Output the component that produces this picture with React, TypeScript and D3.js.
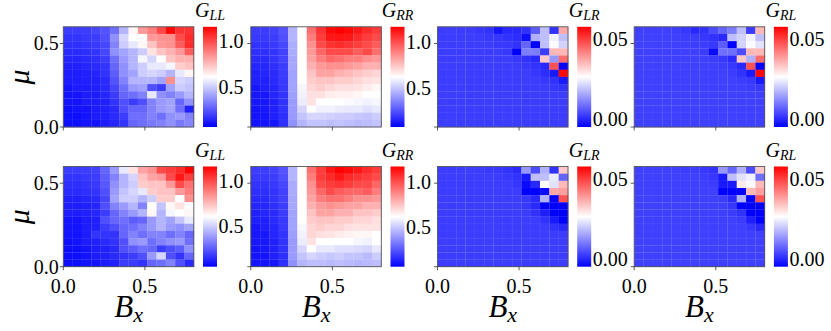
import React from "react";
import * as d3 from "d3";

// 14 x 14 grid, B_x in [0, 0.8], mu in [0, 0.6]; rows listed from top (mu = 0.6) to bottom (mu = 0)
const bxRange = [0, 0.8];
const muRange = [0, 0.6];
const axisTicks = [0.0, 0.5];

const gLLTop = [
  [0.19, 0.19, 0.19, 0.21, 0.24, 0.30, 0.45, 0.63, 0.83, 0.89, 1.00, 1.14, 1.05, 1.05],
  [0.17, 0.17, 0.18, 0.19, 0.23, 0.37, 0.52, 0.61, 0.61, 0.83, 0.85, 0.85, 1.00, 1.07],
  [0.16, 0.16, 0.17, 0.18, 0.21, 0.34, 0.50, 0.56, 0.63, 0.74, 0.83, 0.85, 0.96, 1.07],
  [0.15, 0.15, 0.16, 0.17, 0.21, 0.37, 0.41, 0.45, 0.50, 0.67, 0.74, 0.78, 0.83, 0.96],
  [0.14, 0.14, 0.15, 0.16, 0.19, 0.30, 0.39, 0.45, 0.59, 0.52, 0.61, 0.74, 0.78, 0.78],
  [0.13, 0.13, 0.14, 0.15, 0.17, 0.28, 0.37, 0.45, 0.50, 0.56, 0.56, 0.59, 0.72, 0.74],
  [0.12, 0.12, 0.13, 0.14, 0.17, 0.26, 0.37, 0.41, 0.50, 0.52, 0.50, 0.45, 0.56, 0.63],
  [0.12, 0.12, 0.13, 0.13, 0.15, 0.24, 0.34, 0.45, 0.45, 0.45, 0.41, 0.85, 0.52, 0.50],
  [0.10, 0.12, 0.12, 0.13, 0.15, 0.21, 0.30, 0.39, 0.41, 0.23, 0.19, 0.41, 0.50, 0.48],
  [0.10, 0.10, 0.12, 0.12, 0.14, 0.19, 0.28, 0.30, 0.34, 0.56, 0.37, 0.34, 0.39, 0.45],
  [0.10, 0.10, 0.12, 0.12, 0.13, 0.17, 0.23, 0.19, 0.23, 0.34, 0.39, 0.41, 0.28, 0.37],
  [0.09, 0.10, 0.10, 0.12, 0.13, 0.15, 0.23, 0.28, 0.28, 0.34, 0.39, 0.41, 0.30, 0.13],
  [0.09, 0.09, 0.10, 0.12, 0.13, 0.15, 0.19, 0.30, 0.30, 0.34, 0.30, 0.37, 0.39, 0.34],
  [0.09, 0.09, 0.10, 0.10, 0.12, 0.14, 0.17, 0.28, 0.30, 0.32, 0.34, 0.37, 0.32, 0.35],
];

const gRRTop = [
  [0.20, 0.20, 0.21, 0.25, 0.46, 0.62, 0.93, 1.06, 1.15, 1.17, 1.15, 1.12, 1.08, 1.04],
  [0.19, 0.19, 0.20, 0.24, 0.46, 0.62, 0.90, 1.04, 1.12, 1.13, 1.12, 1.08, 1.04, 1.01],
  [0.18, 0.18, 0.19, 0.22, 0.44, 0.62, 0.86, 1.01, 1.06, 1.08, 1.06, 1.04, 1.01, 0.97],
  [0.17, 0.17, 0.18, 0.21, 0.44, 0.62, 0.84, 0.95, 1.01, 1.01, 1.01, 0.97, 1.01, 0.93],
  [0.16, 0.16, 0.18, 0.21, 0.43, 0.62, 0.82, 0.90, 0.95, 0.93, 0.90, 0.90, 0.86, 0.84],
  [0.15, 0.15, 0.17, 0.20, 0.43, 0.62, 0.79, 0.84, 0.86, 0.86, 0.84, 0.82, 0.79, 0.79],
  [0.14, 0.15, 0.16, 0.20, 0.42, 0.62, 0.75, 0.82, 0.82, 0.79, 0.77, 0.75, 0.73, 0.71],
  [0.14, 0.14, 0.16, 0.19, 0.42, 0.62, 0.73, 0.75, 0.75, 0.73, 0.73, 0.71, 0.69, 0.68],
  [0.12, 0.14, 0.15, 0.19, 0.42, 0.60, 0.71, 0.73, 0.71, 0.69, 0.69, 0.68, 0.66, 0.64],
  [0.12, 0.12, 0.15, 0.18, 0.41, 0.59, 0.69, 0.69, 0.66, 0.65, 0.65, 0.64, 0.62, 0.62],
  [0.12, 0.12, 0.14, 0.18, 0.40, 0.58, 0.68, 0.62, 0.62, 0.62, 0.61, 0.60, 0.59, 0.60],
  [0.11, 0.12, 0.14, 0.18, 0.40, 0.53, 0.62, 0.59, 0.59, 0.58, 0.57, 0.57, 0.55, 0.57],
  [0.11, 0.11, 0.14, 0.17, 0.40, 0.49, 0.53, 0.53, 0.52, 0.51, 0.51, 0.50, 0.49, 0.51],
  [0.11, 0.11, 0.12, 0.17, 0.38, 0.46, 0.49, 0.49, 0.48, 0.49, 0.48, 0.47, 0.48, 0.49],
];

// off-diagonal conductances, in units of 1e-3
const gLRTop = [
  [2.4, 2.4, 2.4, 2.4, 1.8, 1.2, -2.5, 0.0, 0.0, 1.2, 6.2, 18.6, 1.2, 37.2],
  [2.4, 2.4, 2.4, 2.4, 2.4, 1.8, 1.8, 1.2, 0.6, -3.1, 16.7, 18.6, 24.8, 18.6],
  [2.4, 2.4, 2.4, 2.4, 2.4, 2.4, 1.8, 1.8, 1.2, 7.4, -5.0, 18.6, 26.0, 21.0],
  [2.4, 2.4, 2.4, 2.4, 2.4, 2.4, 2.4, 1.8, -5.0, 10.5, 10.5, 2.4, 35.3, 35.3],
  [2.4, 2.4, 2.4, 2.4, 2.4, 2.4, 2.4, 2.4, 1.8, 1.2, 0.0, 33.4, 13.6, 44.6],
  [2.4, 2.4, 2.4, 2.4, 2.4, 2.4, 2.4, 2.4, 2.4, 1.8, 1.2, 0.0, 47.7, -5.0],
  [2.4, 2.4, 2.4, 2.4, 2.4, 2.4, 2.4, 2.4, 2.4, 2.4, 1.8, 0.6, -1.9, 57.0],
  [2.4, 2.4, 2.4, 2.4, 2.4, 2.4, 2.4, 2.4, 2.4, 2.4, 2.4, 1.8, 1.2, -1.9],
  [2.4, 2.4, 2.4, 2.4, 2.4, 2.4, 2.4, 2.4, 2.4, 2.4, 2.4, 2.4, 1.8, 1.2],
  [2.4, 2.4, 2.4, 2.4, 2.4, 2.4, 2.4, 2.4, 2.4, 2.4, 2.4, 2.4, 2.4, 2.4],
  [2.4, 2.4, 2.4, 2.4, 2.4, 2.4, 2.4, 2.4, 2.4, 2.4, 2.4, 2.4, 2.4, 2.4],
  [2.4, 2.4, 2.4, 2.4, 2.4, 2.4, 2.4, 2.4, 2.4, 2.4, 2.4, 2.4, 2.4, 2.4],
  [2.4, 2.4, 2.4, 2.4, 2.4, 2.4, 2.4, 2.4, 2.4, 2.4, 2.4, 2.4, 2.4, 2.4],
  [2.4, 2.4, 2.4, 2.4, 2.4, 2.4, 2.4, 2.4, 2.4, 2.4, 2.4, 2.4, 2.4, 2.4],
];

const gRLTop = [
  [2.8, 2.8, 2.8, 2.8, 2.4, 1.8, 0.0, 1.2, 4.3, 7.4, 10.5, 18.6, 2.4, 35.3],
  [2.8, 2.8, 2.8, 2.8, 2.8, 2.4, 2.4, 1.8, 1.2, 0.0, 18.6, 21.0, 24.8, 18.6],
  [2.8, 2.8, 2.8, 2.8, 2.8, 2.8, 2.4, 2.4, 1.8, 6.2, -5.0, 21.0, 26.0, 22.9],
  [2.8, 2.8, 2.8, 2.8, 2.8, 2.8, 2.8, 2.4, -3.8, 8.6, 8.6, 4.3, 35.3, 35.3],
  [2.8, 2.8, 2.8, 2.8, 2.8, 2.8, 2.8, 2.8, 2.4, 1.8, 0.0, 33.4, 16.7, 44.6],
  [2.8, 2.8, 2.8, 2.8, 2.8, 2.8, 2.8, 2.8, 2.8, 2.4, 1.8, 0.0, 47.7, -5.0],
  [2.8, 2.8, 2.8, 2.8, 2.8, 2.8, 2.8, 2.8, 2.8, 2.8, 2.4, 1.2, -1.9, 57.0],
  [2.8, 2.8, 2.8, 2.8, 2.8, 2.8, 2.8, 2.8, 2.8, 2.8, 2.8, 2.4, 1.8, -1.9],
  [2.8, 2.8, 2.8, 2.8, 2.8, 2.8, 2.8, 2.8, 2.8, 2.8, 2.8, 2.8, 2.4, 1.8],
  [2.8, 2.8, 2.8, 2.8, 2.8, 2.8, 2.8, 2.8, 2.8, 2.8, 2.8, 2.8, 2.8, 2.8],
  [2.8, 2.8, 2.8, 2.8, 2.8, 2.8, 2.8, 2.8, 2.8, 2.8, 2.8, 2.8, 2.8, 2.8],
  [2.8, 2.8, 2.8, 2.8, 2.8, 2.8, 2.8, 2.8, 2.8, 2.8, 2.8, 2.8, 2.8, 2.8],
  [2.8, 2.8, 2.8, 2.8, 2.8, 2.8, 2.8, 2.8, 2.8, 2.8, 2.8, 2.8, 2.8, 2.8],
  [2.8, 2.8, 2.8, 2.8, 2.8, 2.8, 2.8, 2.8, 2.8, 2.8, 2.8, 2.8, 2.8, 2.8],
];

const gLLBot = [
  [0.19, 0.19, 0.19, 0.20, 0.28, 0.39, 0.56, 0.67, 0.81, 0.85, 1.00, 1.03, 1.07, 1.16],
  [0.17, 0.17, 0.18, 0.19, 0.26, 0.34, 0.45, 0.52, 0.74, 0.81, 0.83, 1.00, 1.11, 1.03],
  [0.16, 0.16, 0.17, 0.18, 0.25, 0.37, 0.45, 0.50, 0.72, 0.74, 0.74, 0.83, 1.00, 0.92],
  [0.15, 0.15, 0.16, 0.17, 0.23, 0.39, 0.48, 0.52, 0.56, 0.72, 0.74, 0.74, 0.83, 0.89],
  [0.13, 0.13, 0.14, 0.15, 0.21, 0.41, 0.50, 0.50, 0.45, 0.50, 0.72, 0.72, 0.61, 0.85],
  [0.12, 0.12, 0.13, 0.14, 0.23, 0.34, 0.39, 0.45, 0.34, 0.61, 0.48, 0.63, 0.67, 0.61],
  [0.12, 0.12, 0.13, 0.14, 0.19, 0.28, 0.34, 0.39, 0.45, 0.63, 0.45, 0.59, 0.61, 0.63],
  [0.10, 0.10, 0.12, 0.13, 0.23, 0.28, 0.30, 0.26, 0.28, 0.39, 0.45, 0.41, 0.48, 0.56],
  [0.10, 0.10, 0.12, 0.13, 0.19, 0.23, 0.28, 0.30, 0.34, 0.39, 0.45, 0.39, 0.37, 0.41],
  [0.10, 0.10, 0.12, 0.17, 0.17, 0.17, 0.28, 0.34, 0.30, 0.34, 0.34, 0.30, 0.34, 0.28],
  [0.09, 0.10, 0.12, 0.13, 0.15, 0.17, 0.23, 0.37, 0.39, 0.30, 0.34, 0.37, 0.39, 0.30],
  [0.09, 0.09, 0.10, 0.12, 0.13, 0.15, 0.23, 0.26, 0.30, 0.28, 0.19, 0.23, 0.26, 0.37],
  [0.09, 0.09, 0.10, 0.12, 0.13, 0.15, 0.17, 0.19, 0.23, 0.39, 0.52, 0.23, 0.17, 0.28],
  [0.09, 0.09, 0.10, 0.10, 0.12, 0.13, 0.19, 0.19, 0.17, 0.28, 0.30, 0.34, 0.23, 0.15],
];

const gRRBot = [
  [0.20, 0.20, 0.21, 0.25, 0.46, 0.62, 0.93, 1.04, 1.12, 1.17, 1.15, 1.12, 1.08, 1.04],
  [0.19, 0.19, 0.20, 0.24, 0.46, 0.62, 0.90, 1.04, 1.08, 1.12, 1.08, 1.06, 1.04, 1.01],
  [0.18, 0.18, 0.19, 0.22, 0.44, 0.62, 0.86, 1.01, 1.04, 1.06, 1.04, 1.01, 1.01, 0.95],
  [0.17, 0.17, 0.18, 0.21, 0.44, 0.62, 0.84, 0.95, 1.01, 0.97, 0.95, 0.95, 0.97, 0.90],
  [0.16, 0.16, 0.18, 0.21, 0.43, 0.62, 0.82, 0.90, 0.93, 0.93, 0.90, 0.86, 0.86, 0.84],
  [0.15, 0.15, 0.17, 0.20, 0.43, 0.62, 0.79, 0.84, 0.86, 0.84, 0.82, 0.82, 0.79, 0.79],
  [0.14, 0.15, 0.16, 0.20, 0.42, 0.62, 0.75, 0.82, 0.82, 0.79, 0.79, 0.75, 0.75, 0.73],
  [0.14, 0.14, 0.16, 0.19, 0.42, 0.62, 0.73, 0.75, 0.75, 0.73, 0.73, 0.71, 0.71, 0.69],
  [0.12, 0.14, 0.15, 0.19, 0.42, 0.60, 0.71, 0.73, 0.71, 0.71, 0.69, 0.68, 0.68, 0.68],
  [0.12, 0.12, 0.15, 0.18, 0.41, 0.59, 0.71, 0.69, 0.68, 0.66, 0.65, 0.64, 0.64, 0.62],
  [0.12, 0.12, 0.14, 0.18, 0.40, 0.58, 0.68, 0.62, 0.62, 0.62, 0.62, 0.60, 0.59, 0.62],
  [0.11, 0.12, 0.14, 0.18, 0.40, 0.53, 0.62, 0.57, 0.57, 0.55, 0.55, 0.54, 0.53, 0.57],
  [0.11, 0.11, 0.14, 0.17, 0.40, 0.49, 0.53, 0.51, 0.50, 0.51, 0.49, 0.49, 0.47, 0.51],
  [0.11, 0.11, 0.12, 0.17, 0.38, 0.46, 0.48, 0.48, 0.47, 0.48, 0.47, 0.46, 0.47, 0.48],
];

const gLRBot = [
  [2.4, 2.4, 2.4, 2.4, 2.4, 1.8, 1.8, 1.2, 0.0, 13.6, 4.3, 16.7, 1.2, 33.4],
  [2.4, 2.4, 2.4, 2.4, 2.4, 2.4, 2.4, 1.8, 1.2, -1.9, 18.6, 18.6, 24.1, 7.4],
  [2.4, 2.4, 2.4, 2.4, 2.4, 2.4, 2.4, 2.4, 1.8, -3.8, 0.0, 27.2, 22.9, 35.3],
  [2.4, 2.4, 2.4, 2.4, 2.4, 2.4, 2.4, 2.4, 2.4, -5.0, -5.0, -3.8, 37.2, 38.4],
  [2.4, 2.4, 2.4, 2.4, 2.4, 2.4, 2.4, 2.4, 2.4, 1.8, 0.0, 16.7, -5.0, 47.7],
  [2.4, 2.4, 2.4, 2.4, 2.4, 2.4, 2.4, 2.4, 2.4, 1.8, 0.0, -5.0, -5.0, -5.0],
  [2.4, 2.4, 2.4, 2.4, 2.4, 2.4, 2.4, 2.4, 2.4, 2.4, 1.2, -1.3, -5.0, -5.0],
  [2.4, 2.4, 2.4, 2.4, 2.4, 2.4, 2.4, 2.4, 2.4, 2.4, 2.4, 1.2, -1.9, -5.0],
  [2.4, 2.4, 2.4, 2.4, 2.4, 2.4, 2.4, 2.4, 2.4, 2.4, 2.4, 2.4, 1.2, 0.0],
  [2.4, 2.4, 2.4, 2.4, 2.4, 2.4, 2.4, 2.4, 2.4, 2.4, 2.4, 2.4, 2.4, 2.4],
  [2.4, 2.4, 2.4, 2.4, 2.4, 2.4, 2.4, 2.4, 2.4, 2.4, 2.4, 2.4, 2.4, 2.4],
  [2.4, 2.4, 2.4, 2.4, 2.4, 2.4, 2.4, 2.4, 2.4, 2.4, 2.4, 2.4, 2.4, 2.4],
  [2.4, 2.4, 2.4, 2.4, 2.4, 2.4, 2.4, 2.4, 2.4, 2.4, 2.4, 2.4, 2.4, 2.4],
  [2.4, 2.4, 2.4, 2.4, 2.4, 2.4, 2.4, 2.4, 2.4, 2.4, 2.4, 2.4, 2.4, 2.4],
];

const gRLBot = [
  [2.8, 2.8, 2.8, 2.8, 2.8, 2.4, 2.4, 1.8, 1.2, 13.6, 7.4, 16.7, 4.3, 33.4],
  [2.8, 2.8, 2.8, 2.8, 2.8, 2.8, 2.8, 2.4, 1.8, -1.9, 18.6, 22.9, 24.8, 8.6],
  [2.8, 2.8, 2.8, 2.8, 2.8, 2.8, 2.8, 2.8, 2.4, -1.9, -1.9, 29.0, 26.0, 35.3],
  [2.8, 2.8, 2.8, 2.8, 2.8, 2.8, 2.8, 2.8, 2.8, -5.0, -5.0, -5.0, 35.3, 38.4],
  [2.8, 2.8, 2.8, 2.8, 2.8, 2.8, 2.8, 2.8, 2.8, 2.4, 0.0, 16.7, -5.0, 47.7],
  [2.8, 2.8, 2.8, 2.8, 2.8, 2.8, 2.8, 2.8, 2.8, 2.8, 1.8, -5.0, -5.0, -5.0],
  [2.8, 2.8, 2.8, 2.8, 2.8, 2.8, 2.8, 2.8, 2.8, 2.8, 2.4, 1.2, -5.0, -5.0],
  [2.8, 2.8, 2.8, 2.8, 2.8, 2.8, 2.8, 2.8, 2.8, 2.8, 2.8, 2.4, -1.3, -5.0],
  [2.8, 2.8, 2.8, 2.8, 2.8, 2.8, 2.8, 2.8, 2.8, 2.8, 2.8, 2.8, 1.8, 0.0],
  [2.8, 2.8, 2.8, 2.8, 2.8, 2.8, 2.8, 2.8, 2.8, 2.8, 2.8, 2.8, 2.8, 2.8],
  [2.8, 2.8, 2.8, 2.8, 2.8, 2.8, 2.8, 2.8, 2.8, 2.8, 2.8, 2.8, 2.8, 2.8],
  [2.8, 2.8, 2.8, 2.8, 2.8, 2.8, 2.8, 2.8, 2.8, 2.8, 2.8, 2.8, 2.8, 2.8],
  [2.8, 2.8, 2.8, 2.8, 2.8, 2.8, 2.8, 2.8, 2.8, 2.8, 2.8, 2.8, 2.8, 2.8],
  [2.8, 2.8, 2.8, 2.8, 2.8, 2.8, 2.8, 2.8, 2.8, 2.8, 2.8, 2.8, 2.8, 2.8],
];

// colour limits and colorbar ticks
const diagLimitsLL = [0.06, 1.16];
const diagLimitsRR = [0.07, 1.17];
const offLimits = [-0.005, 0.058];
const diagTicks = [0.5, 1.0];
const offTicks = [0.0, 0.05];
const titles = ["LL", "RR", "LR", "RL"];

const milli = (m: number[][]) => m.map((r) => r.map((v) => v / 1000));

// layout
const W = 831;
const H = 331;
const heatW = 130.5;
const heatH = 100.2;
const colX = [63.3, 250.8, 437.5, 634.2];
const rowY = [26.8, 166.5];
const cbOffset = 139.7;
const cbW = 14;
const serifStyle = {
  fontFamily:
    "'Liberation Serif', 'Times New Roman', Tinos, 'DejaVu Serif', 'Noto Serif', FreeSerif, Times, serif",
};

function Panel({ x0, y0, data, limits, cbTicks, cbFmt, sub, gradId, showYLabels, showXLabels }: any) {
  const nCols = data[0].length;
  const nRows = data.length;
  const xb = d3.scaleBand<number>().domain(d3.range(nCols)).range([x0, x0 + heatW]);
  const yb = d3.scaleBand<number>().domain(d3.range(nRows)).range([y0, y0 + heatH]);
  const xs = d3.scaleLinear().domain(bxRange).range([x0, x0 + heatW]);
  const ys = d3.scaleLinear().domain(muRange).range([y0 + heatH, y0]);
  const color = d3
    .scaleLinear<string>()
    .domain([limits[0], (limits[0] + limits[1]) / 2, limits[1]])
    .range(["#0000ff", "#ffffff", "#ff0000"])
    .clamp(true);
  const cbX = x0 + cbOffset;
  const cs = d3.scaleLinear().domain(limits).range([y0 + heatH, y0]);

  return (
    <g style={serifStyle}>
      {/* cells */}
      {data.map((row: number[], r: number) =>
        row.map((v: number, c: number) => (
          <rect
            key={`${r}-${c}`}
            x={xb(c)}
            y={yb(r)}
            width={xb.bandwidth() + 0.3}
            height={yb.bandwidth() + 0.3}
            fill={color(v)}
            stroke="rgba(255,255,255,0.1)"
            strokeWidth={0.4}
          />
        ))
      )}
      <rect x={x0} y={y0} width={heatW} height={heatH} fill="none" stroke="#555" strokeWidth={0.9} />

      {/* y ticks */}
      {axisTicks.map((t) => (
        <g key={`y${t}`}>
          <line x1={x0 - 3.5} x2={x0} y1={ys(t)} y2={ys(t)} stroke="#333" strokeWidth={0.8} />
          {showYLabels && (
            <text x={x0 - 4.5} y={ys(t)} dy="0.34em" textAnchor="end" fontSize={20}>
              {t.toFixed(1)}
            </text>
          )}
        </g>
      ))}

      {/* x ticks */}
      {axisTicks.map((t) => (
        <g key={`x${t}`}>
          <line x1={xs(t)} x2={xs(t)} y1={y0 + heatH} y2={y0 + heatH + 3.5} stroke="#333" strokeWidth={0.8} />
          {showXLabels && (
            <text x={xs(t)} y={y0 + heatH + 26} textAnchor="middle" fontSize={20}>
              {t.toFixed(1)}
            </text>
          )}
        </g>
      ))}

      {showXLabels && (
        <text x={x0 + heatW / 2} y={y0 + heatH + 50} textAnchor="middle" fontStyle="italic">
          <tspan fontSize={31}>B</tspan>
          <tspan fontSize={22} dy={5}>x</tspan>
        </text>
      )}

      {/* colorbar */}
      <rect x={cbX} y={y0} width={cbW} height={heatH} fill={`url(#${gradId})`} />
      {cbTicks.map((t: number) => (
        <text key={`c${t}`} x={cbX + cbW + 1.5} y={cs(t)} dy="0.34em" fontSize={20}>
          {cbFmt(t)}
        </text>
      ))}

      {/* title */}
      <text x={cbX + cbW / 2} y={y0 - 9.5} textAnchor="middle" fontStyle="italic">
        <tspan fontSize={20}>G</tspan>
        <tspan fontSize={14} dy={3}>{sub}</tspan>
      </text>
    </g>
  );
}

export default function App() {
  const rows = [
    [gLLTop, gRRTop, milli(gLRTop), milli(gRLTop)],
    [gLLBot, gRRBot, milli(gLRBot), milli(gRLBot)],
  ];
  const limits = [diagLimitsLL, diagLimitsRR, offLimits, offLimits];
  const ticks = [diagTicks, diagTicks, offTicks, offTicks];
  const fmts = [
    (t: number) => t.toFixed(1),
    (t: number) => t.toFixed(1),
    (t: number) => t.toFixed(2),
    (t: number) => t.toFixed(2),
  ];

  return (
    <svg width={W} height={H} style={{ position: "absolute", left: 0, top: 0, background: "#fff" }}>
      <defs>
        <linearGradient id="bwr" x1="0" y1="1" x2="0" y2="0">
          <stop offset="0" stopColor="#0000ff" />
          <stop offset="0.5" stopColor="#ffffff" />
          <stop offset="1" stopColor="#ff0000" />
        </linearGradient>
      </defs>
      {rows.map((panels, ri) =>
        panels.map((data, ci) => (
          <Panel
            key={`${ri}-${ci}`}
            x0={colX[ci]}
            y0={rowY[ri]}
            data={data}
            limits={limits[ci]}
            cbTicks={ticks[ci]}
            cbFmt={fmts[ci]}
            sub={titles[ci]}
            gradId="bwr"
            showYLabels={ci === 0}
            showXLabels={ri === 1}
          />
        ))
      )}
      {rowY.map((y) => (
        <text
          key={`mu${y}`}
          transform={`translate(29, ${y + heatH / 2}) rotate(-90)`}
          textAnchor="middle"
          fontSize={30}
          fontStyle="italic"
          style={serifStyle}
        >
          μ
        </text>
      ))}
    </svg>
  );
}
